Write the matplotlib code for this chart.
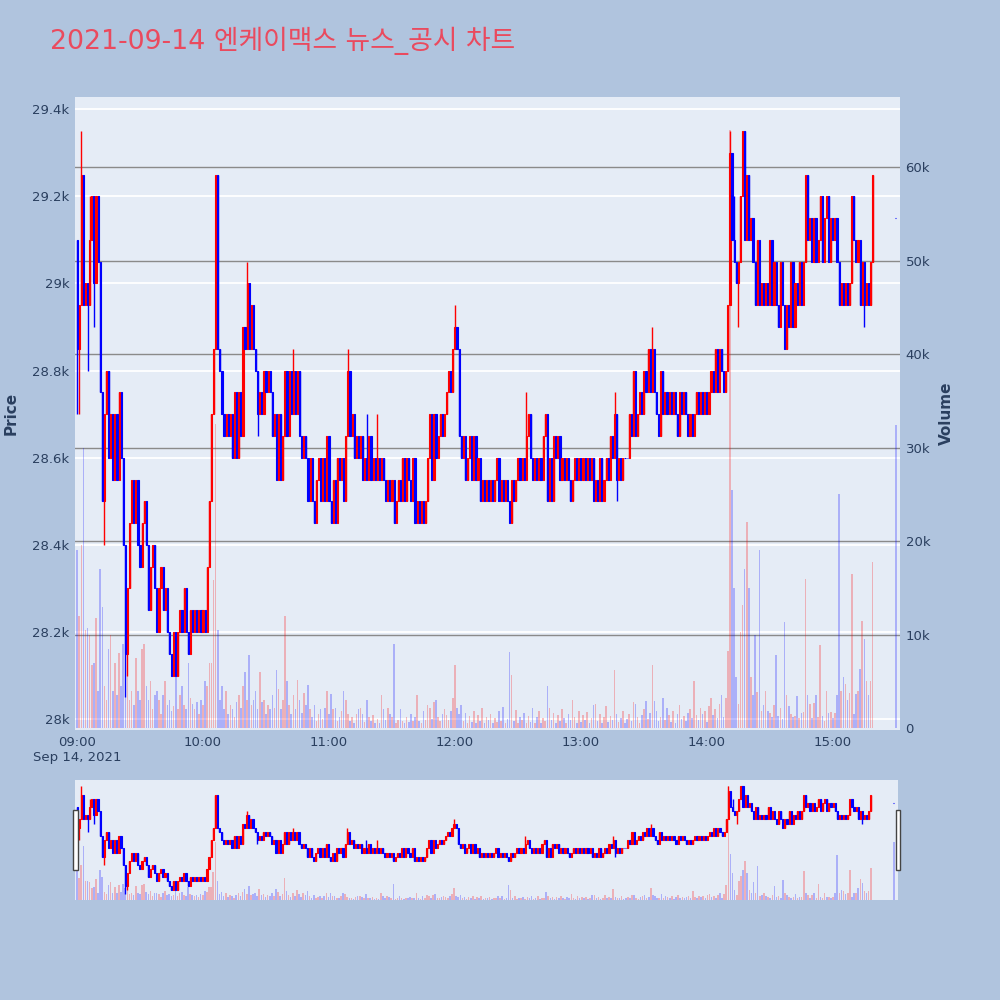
import numpy as np
import matplotlib
matplotlib.use("Agg")
import matplotlib.pyplot as plt
from matplotlib.patches import Rectangle

plt.rcParams['font.family'] = ['DejaVu Sans']

# 제목
title = "2021-09-14 엔케이맥스 뉴스_공시 차트"

# 1분봉 종가 09:00 ~ 15:19 (10개씩 한 줄)
close = [
    28850, 28950, 29250, 28950, 29000, 28950, 29100, 29200, 29000, 29200,
    29050, 28750, 28500, 28700, 28800, 28600, 28700, 28550, 28700, 28550,
    28750, 28600, 28400, 28150, 28300, 28450, 28550, 28450, 28550, 28400,
    28350, 28450, 28500, 28400, 28250, 28350, 28400, 28300, 28200, 28300,
    28350, 28250, 28300, 28200, 28150, 28100, 28200, 28100, 28200, 28250,
    28200, 28300, 28200, 28150, 28250, 28200, 28250, 28200, 28250, 28200,
    28250, 28200, 28350, 28500, 28700, 28850, 29250, 28850, 28800, 28700,
    28650, 28700, 28650, 28700, 28600, 28750, 28600, 28750, 28650, 28900,
    28850, 29000, 28850, 28950, 28850, 28800, 28700, 28750, 28700, 28800,
    28750, 28800, 28750, 28650, 28700, 28550, 28700, 28550, 28650, 28800,
    28650, 28800, 28700, 28800, 28700, 28800, 28650, 28600, 28650, 28600,
    28500, 28600, 28500, 28450, 28550, 28600, 28500, 28600, 28500, 28650,
    28500, 28450, 28550, 28450, 28600, 28550, 28600, 28500, 28650, 28800,
    28650, 28700, 28600, 28650, 28600, 28650, 28550, 28600, 28550, 28650,
    28550, 28600, 28550, 28600, 28550, 28600, 28550, 28500, 28550, 28500,
    28550, 28450, 28500, 28550, 28500, 28600, 28500, 28600, 28550, 28500,
    28600, 28450, 28500, 28450, 28500, 28450, 28500, 28600, 28700, 28550,
    28700, 28600, 28650, 28700, 28650, 28700, 28750, 28800, 28750, 28850,
    28900, 28850, 28650, 28600, 28650, 28550, 28600, 28650, 28550, 28650,
    28550, 28600, 28500, 28550, 28500, 28550, 28500, 28550, 28500, 28550,
    28600, 28500, 28550, 28500, 28550, 28500, 28450, 28550, 28500, 28550,
    28600, 28550, 28600, 28550, 28650, 28700, 28600, 28550, 28600, 28550,
    28600, 28550, 28650, 28700, 28500, 28600, 28500, 28650, 28600, 28650,
    28550, 28600, 28550, 28600, 28550, 28500, 28550, 28600, 28550, 28600,
    28550, 28600, 28550, 28600, 28550, 28600, 28500, 28550, 28500, 28600,
    28500, 28550, 28600, 28550, 28650, 28600, 28700, 28550, 28600, 28550,
    28600, 28600, 28600, 28700, 28650, 28800, 28650, 28700, 28750, 28700,
    28800, 28750, 28850, 28750, 28850, 28750, 28700, 28650, 28800, 28700,
    28750, 28700, 28750, 28700, 28750, 28700, 28650, 28750, 28700, 28750,
    28700, 28650, 28700, 28650, 28700, 28750, 28700, 28750, 28700, 28750,
    28700, 28750, 28800, 28750, 28850, 28750, 28850, 28800, 28750, 28800,
    28950, 29300, 29100, 29050, 29000, 29050, 29200, 29350, 29100, 29250,
    29100, 29150, 29050, 28950, 29100, 28950, 29000, 28950, 29000, 28950,
    29100, 28950, 29050, 28950, 28900, 29050, 28950, 28850, 28950, 28900,
    29050, 28900, 29000, 28950, 29050, 28950, 29050, 29250, 29100, 29150,
    29050, 29150, 29050, 29100, 29200, 29050, 29150, 29200, 29050, 29150,
    29100, 29150, 29050, 28950, 29000, 28950, 29000, 28950, 29000, 29200,
    29100, 29050, 29100, 28950, 29050, 28950, 29000, 28950, 29050, 29250,
]
first_open = 29100
auction_price = 29150   # 15:30 동시호가

# 꼬리 (분 인덱스: 가격)
wick_hi = {2: 29350, 6: 29200, 81: 29050, 103: 28850, 129: 28850, 138: 28700,
           143: 28700, 180: 28950, 214: 28750, 256: 28750, 274: 28900,
           311: 29350, 313: 29200}
wick_lo = {0: 28700, 1: 28700, 5: 28800, 8: 28900, 13: 28400, 23: 28050,
           24: 28100, 86: 28650, 257: 28500, 315: 28900, 375: 28900}

# 거래량 (천주)
volume_k = [
    19, 12, 19.6, 30, 10.5, 10.7, 10, 6.7, 7, 11.8,
    4, 17, 13, 4.5, 3, 8.5, 10, 4, 7, 3.5,
    8, 4.5, 9, 6.5, 6, 3, 4, 2.5, 7.5, 4,
    3, 8.5, 9, 4.5, 3, 5, 2, 3.5, 4, 3,
    1.5, 3.5, 5, 2.5, 3, 1.8, 2.4, 5.5, 2, 3.5,
    4.5, 2.5, 2, 7, 3.2, 2.6, 2, 2.8, 1.5, 3,
    2.5, 5, 4.5, 7, 7, 15.8, 32.5, 10.5, 3, 4.5,
    2, 4, 1.5, 2.5, 2, 1.2, 2.8, 3.5, 2.2, 4.5,
    6, 3, 7.8, 2.5, 3, 4, 2, 6, 2.8, 3,
    1.5, 2.5, 2, 3.5, 2.2, 6.2, 4.2, 2, 3, 12,
    5, 2.5, 1.5, 3.5, 2, 5.2, 3, 1.6, 3.8, 2.5,
    4.6, 2, 1.2, 2.5, 0.8, 1.5, 2, 1, 2.2, 4,
    1.5, 3.7, 2, 2.2, 0.8, 1.2, 1.8, 4, 3, 1.5,
    0.8, 1.2, 0.6, 1.5, 2, 2.2, 1.5, 0.7, 3, 1.2,
    0.8, 1.4, 0.6, 1, 0.5, 3.5, 2, 0.9, 2.2, 1.5,
    1.2, 9, 0.5, 0.9, 2, 0.8, 0.6, 1.2, 0.7, 1.5,
    0.8, 1.2, 3.5, 0.8, 0.6, 1.8, 0.9, 2.5, 2.2, 1,
    2.8, 3, 1.2, 0.8, 1.5, 2, 1.4, 0.9, 1.8, 3.2,
    6.7, 2.2, 1.5, 2.5, 0.8, 1.6, 0.6, 1.3, 0.7, 1.8,
    0.6, 1.4, 0.8, 2.2, 0.5, 1.2, 0.9, 1.5, 0.6, 1.1,
    0.7, 1.8, 0.8, 2.3, 0.5, 1, 8.1, 5.7, 0.8, 1.9,
    0.6, 1.2, 0.9, 1.6, 0.5, 1.3, 0.7, 2.2, 0.6, 1.2,
    1.8, 0.5, 1.1, 0.8, 4.5, 2.2, 0.9, 1.6, 0.6, 1.4,
    0.8, 2, 1.1, 0.6, 1.5, 0.9, 3, 1.2, 0.5, 1.8,
    0.7, 1.4, 0.9, 1.7, 0.5, 1.1, 2.5, 2.6, 0.8, 1.5,
    0.6, 1.2, 2.4, 0.7, 1.3, 0.9, 6.2, 1.5, 0.7, 1.1,
    1.8, 0.6, 1, 1.5, 0.8, 2.8, 2.6, 1.2, 0.6, 1.4,
    2, 2.9, 1, 1.6, 6.7, 2.9, 1.8, 0.8, 1.2, 3.2,
    0.9, 2.1, 1.4, 0.7, 1.8, 0.6, 1.5, 2.5, 1, 1.3,
    0.8, 1.6, 2, 1.1, 5, 1.4, 0.9, 2.2, 1.5, 1.8,
    0.7, 2.4, 3.2, 1.4, 2, 1.1, 2.6, 3.5, 1.2, 3.2,
    8.3, 64, 25.5, 15, 5.5, 2.6, 10.3, 13.2, 17, 22,
    15, 5.5, 3.5, 10, 3.9, 19, 1.8, 2.5, 4, 1.8,
    1.6, 1.2, 2.5, 7.8, 1.3, 2.2, 1, 11.3, 3.5, 2.4,
    1.5, 1.2, 1.3, 3.4, 1.1, 1.6, 1.7, 16, 3.5, 2.6,
    1.1, 2.7, 3.5, 1.2, 8.9, 1.3, 0.8, 4, 1.6, 1.7,
    1.1, 1.6, 3.5, 25, 4, 5.5, 4.7, 3, 3.8, 16.5,
    1.5, 3.6, 4, 6.3, 11.5, 9.5, 5, 3.5, 5, 17.8,
]
auction_vol_k = 32.4

price_ticks = [28000, 28200, 28400, 28600, 28800, 29000, 29200, 29400]
price_labels = ["28k", "28.2k", "28.4k", "28.6k", "28.8k", "29k", "29.2k", "29.4k"]
vol_ticks = [0, 10, 20, 30, 40, 50, 60]
vol_labels = ["0", "10k", "20k", "30k", "40k", "50k", "60k"]
time_labels = ["09:00", "10:00", "11:00", "12:00", "13:00", "14:00", "15:00"]

# 분 단위 x 좌표 (09:00 = 0), 마지막은 15:30 동시호가
x = np.append(np.arange(len(close)), 390)
c = np.array(close + [auction_price], dtype=float)
o = np.array([first_open] + close[:-1] + [auction_price], dtype=float)
h = np.maximum(o, c)
l = np.minimum(o, c)
for k, v in wick_hi.items():
    h[k] = v
for k, v in wick_lo.items():
    l[k] = v
vol = np.array(volume_k + [auction_vol_k])
up = c > o
col = np.where(up, '#FF0000', '#0000FF')

PLIM = (27975, 29428)
VLIM = (-0.2, 67.5)
XLIM = (-1, 392)
BG = '#B0C4DE'
PLOT_BG = '#E5ECF6'
TXT = '#2a3f5f'


def draw(axv, axp, grid=True):
    axv.set_facecolor(PLOT_BG)
    axp.set_facecolor('none')
    axv.set_xlim(*XLIM)
    axp.set_xlim(*XLIM)
    axv.set_ylim(*VLIM)
    axp.set_ylim(*PLIM)
    if grid:
        for p in price_ticks:
            v = VLIM[0] + (p - PLIM[0]) / (PLIM[1] - PLIM[0]) * (VLIM[1] - VLIM[0])
            axv.axhline(v, color='white', lw=1.3, zorder=0)
        for v in vol_ticks[1:]:
            axv.axhline(v, color='#8a8a8a', lw=1.0, zorder=0.5)
    axv.bar(x, vol, width=0.75, color=col, alpha=0.25, lw=0, zorder=1)
    axp.vlines(x, l, h, colors=col, lw=1.0, zorder=2)
    axp.bar(x, c - o, bottom=o, width=0.55, color=col, edgecolor=col,
            lw=0.8, zorder=3)
    for a in (axv, axp):
        for s in a.spines.values():
            s.set_visible(False)


fig = plt.figure(figsize=(10, 10), dpi=100, facecolor=BG)

ax_v = fig.add_axes([0.075, 0.27, 0.825, 0.633])
ax_p = ax_v.twinx()
draw(ax_v, ax_p)

ax_p.yaxis.tick_left()
ax_p.yaxis.set_label_position('left')
ax_p.set_yticks(price_ticks)
ax_p.set_yticklabels(price_labels)
ax_p.tick_params(axis='y', length=0, pad=4, labelsize=9.5, labelcolor=TXT)
ax_p.set_ylabel("Price", fontsize=11, fontweight='bold', color=TXT, labelpad=10)

ax_v.yaxis.tick_right()
ax_v.yaxis.set_label_position('right')
ax_v.set_yticks(vol_ticks)
ax_v.set_yticklabels(vol_labels)
ax_v.tick_params(axis='y', length=0, pad=4, labelsize=9.5, labelcolor=TXT)
ax_v.set_ylabel("Volume", fontsize=11, fontweight='bold', color=TXT, labelpad=6)

ax_v.set_xticks([0, 60, 120, 180, 240, 300, 360])
ax_v.set_xticklabels(time_labels)
ax_v.tick_params(axis='x', length=0, pad=4, labelsize=9.5, labelcolor=TXT)
ax_p.tick_params(axis='x', length=0, labelbottom=False)
fig.text(0.077, 1 - 0.757, "Sep 14, 2021", ha='center', va='center',
         fontsize=9.5, color=TXT)

# 레인지 슬라이더
ax_sv = fig.add_axes([0.075, 0.10, 0.823, 0.12])
ax_sp = ax_sv.twinx()
draw(ax_sv, ax_sp, grid=False)
for a in (ax_sv, ax_sp):
    a.set_xticks([])
    a.set_yticks([])
for xl in (0.073, 0.8955):
    fig.patches.append(Rectangle((xl, 0.13), 0.0045, 0.06, transform=fig.transFigure,
                                 facecolor='white', edgecolor='#444444', lw=1.0))

fig.text(0.05, 0.959, title, fontsize=19.3, color='#EA4A5E', va='center', ha='left',
         family=['DejaVu Sans', 'Noto Sans CJK KR'])

fig.savefig("out.png", dpi=100, facecolor=BG)
